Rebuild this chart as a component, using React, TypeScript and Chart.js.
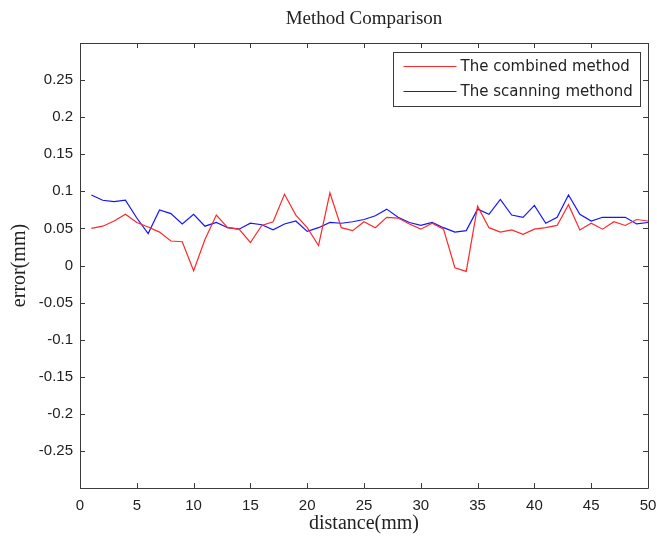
import { useEffect, useRef } from "react";
import { Chart, registerables } from "chart.js";

Chart.register(...registerables);

const distance = [
  1, 2, 3, 4, 5, 6, 7, 8, 9, 10, 11, 12, 13, 14, 15, 16, 17, 18, 19, 20, 21, 22, 23, 24, 25,
  26, 27, 28, 29, 30, 31, 32, 33, 34, 35, 36, 37, 38, 39, 40, 41, 42, 43, 44, 45, 46, 47, 48, 49, 50,
];

const combined = [
  0.05, 0.053, 0.06, 0.069, 0.058, 0.052, 0.045, 0.033, 0.032, -0.007,
  0.035, 0.068, 0.051, 0.049, 0.031, 0.054, 0.059, 0.096, 0.068, 0.051,
  0.027, 0.098, 0.051, 0.047, 0.059, 0.051, 0.065, 0.064, 0.056, 0.049,
  0.057, 0.049, -0.003, -0.008, 0.08, 0.051, 0.045, 0.048, 0.042, 0.049,
  0.051, 0.054, 0.082, 0.048, 0.057, 0.049, 0.059, 0.054, 0.062, 0.06,
];

const scanning = [
  0.095, 0.088, 0.086, 0.088, 0.064, 0.043, 0.075, 0.07, 0.056, 0.069,
  0.053, 0.058, 0.051, 0.049, 0.057, 0.055, 0.048, 0.056, 0.06, 0.046,
  0.051, 0.058, 0.057, 0.059, 0.062, 0.067, 0.076, 0.065, 0.058, 0.054,
  0.058, 0.051, 0.045, 0.047, 0.076, 0.069, 0.089, 0.068, 0.065, 0.081,
  0.057, 0.065, 0.095, 0.069, 0.06, 0.065, 0.065, 0.065, 0.056, 0.058,
];

const xTicks = [0, 5, 10, 15, 20, 25, 30, 35, 40, 45, 50];
const yTicks = [-0.3, -0.25, -0.2, -0.15, -0.1, -0.05, 0, 0.05, 0.1, 0.15, 0.2, 0.25, 0.3];
const yLabelled = [-0.25, -0.2, -0.15, -0.1, -0.05, 0, 0.05, 0.1, 0.15, 0.2, 0.25];

const titleText = "Method Comparison";
const xTitle = "distance(mm)";
const yTitle = "error(mm)";
const seriesNames = ["The combined method", "The scanning methond"];

const frameColor = "#3a3a3a";
const textColor = "#222222";

const framePlugin = {
  id: "matlabFrame",
  afterDraw(chart: any) {
    const { ctx, chartArea } = chart;
    const { left, right, top, bottom } = chartArea;
    const xs = chart.scales.x;
    const ys = chart.scales.y;
    ctx.save();
    ctx.strokeStyle = frameColor;
    ctx.lineWidth = 1;
    ctx.beginPath();
    ctx.rect(Math.round(left) + 0.5, Math.round(top) + 0.5, Math.round(right - left), Math.round(bottom - top));
    ctx.stroke();
    const tl = 5;
    ctx.beginPath();
    xTicks.forEach((v) => {
      const px = Math.round(xs.getPixelForValue(v)) + 0.5;
      ctx.moveTo(px, bottom);
      ctx.lineTo(px, bottom - tl);
      ctx.moveTo(px, top);
      ctx.lineTo(px, top + tl);
    });
    yTicks.forEach((v) => {
      const py = Math.round(ys.getPixelForValue(v)) + 0.5;
      ctx.moveTo(left, py);
      ctx.lineTo(left + tl, py);
      ctx.moveTo(right, py);
      ctx.lineTo(right - tl, py);
    });
    ctx.stroke();

    // title
    ctx.fillStyle = textColor;
    ctx.font = "19px 'Liberation Serif', serif";
    ctx.textAlign = "center";
    ctx.textBaseline = "middle";
    ctx.fillText(titleText, (left + right) / 2, 19);

    // legend box
    const bw = 247;
    const bh = 54;
    const bx = Math.round(right - 8 - bw) + 0.5;
    const by = Math.round(top + 9) + 0.5;
    ctx.fillStyle = "#ffffff";
    ctx.fillRect(bx, by, bw, bh);
    ctx.strokeStyle = frameColor;
    ctx.strokeRect(bx, by, bw, bh);
    ctx.font = "15px 'DejaVu Sans', sans-serif";
    ctx.textAlign = "left";
    chart.data.datasets.forEach((ds: any, i: number) => {
      const ly = by + 14 + i * 25;
      ctx.strokeStyle = ds.borderColor;
      ctx.lineWidth = 1;
      ctx.beginPath();
      ctx.moveTo(bx + 10, ly);
      ctx.lineTo(bx + 63, ly);
      ctx.stroke();
      ctx.fillStyle = textColor;
      ctx.fillText(ds.label, bx + 67, ly + 1);
    });
    ctx.restore();
  },
};

export default function App() {
  const ref = useRef<HTMLCanvasElement | null>(null);
  useEffect(() => {
    if (!ref.current) return;
    const chart = new Chart(ref.current, {
      type: "line",
      data: {
        labels: distance,
        datasets: [
          {
            label: seriesNames[0],
            data: distance.map((d, i) => ({ x: d, y: combined[i] })),
            borderColor: "rgb(255, 40, 40)",
            borderWidth: 1.2,
            pointRadius: 0,
            tension: 0,
            fill: false,
          },
          {
            label: seriesNames[1],
            data: distance.map((d, i) => ({ x: d, y: scanning[i] })),
            borderColor: "rgb(20, 20, 255)",
            borderWidth: 1.2,
            pointRadius: 0,
            tension: 0,
            fill: false,
          },
        ],
      },
      options: {
        responsive: false,
        animation: false,
        layout: { padding: { top: 43, right: 9, left: 0, bottom: 0 } },
        plugins: {
          legend: { display: false },
          title: { display: false },
          tooltip: { enabled: false },
        },
        scales: {
          x: {
            type: "linear",
            min: 0,
            max: 50,
            afterBuildTicks: (scale: any) => {
              scale.ticks = xTicks.map((v) => ({ value: v }));
            },
            afterFit: (scale: any) => {
              scale.height = 50;
              scale.paddingLeft = 0;
              scale.paddingRight = 0;
            },
            grid: { display: false, drawTicks: false },
            border: { display: false },
            ticks: {
              padding: 9,
              color: textColor,
              font: { family: "'Liberation Sans', Arial, sans-serif", size: 15 },
              maxRotation: 0,
              callback: (v: any) => String(v),
            },
            title: {
              display: true,
              text: xTitle,
              color: textColor,
              font: { family: "'Liberation Serif', serif", size: 20 },
              padding: { top: 0, bottom: 2 },
            },
          },
          y: {
            type: "linear",
            min: -0.3,
            max: 0.3,
            afterBuildTicks: (scale: any) => {
              scale.ticks = yTicks.map((v) => ({ value: v }));
            },
            afterFit: (scale: any) => {
              scale.width = 80;
              scale.paddingTop = 0;
              scale.paddingBottom = 0;
            },
            grid: { display: false, drawTicks: false },
            border: { display: false },
            ticks: {
              padding: 7,
              color: textColor,
              font: { family: "'Liberation Sans', Arial, sans-serif", size: 15 },
              callback: (v: any) => {
                const n = Number(Number(v).toFixed(2));
                if (!yLabelled.some((t) => Math.abs(t - n) < 1e-9)) return "";
                return n === 0 ? "0" : String(n);
              },
            },
            title: {
              display: true,
              text: yTitle,
              color: textColor,
              font: { family: "'Liberation Serif', serif", size: 20 },
              padding: { top: 8, bottom: 0 },
            },
          },
        },
      },
      plugins: [framePlugin],
    });
    return () => chart.destroy();
  }, []);
  return (
    <div style={{ position: "fixed", left: 0, top: 0, width: 657, height: 538, background: "#fff" }}>
      <canvas ref={ref} width={657} height={538} style={{ display: "block" }} />
    </div>
  );
}
